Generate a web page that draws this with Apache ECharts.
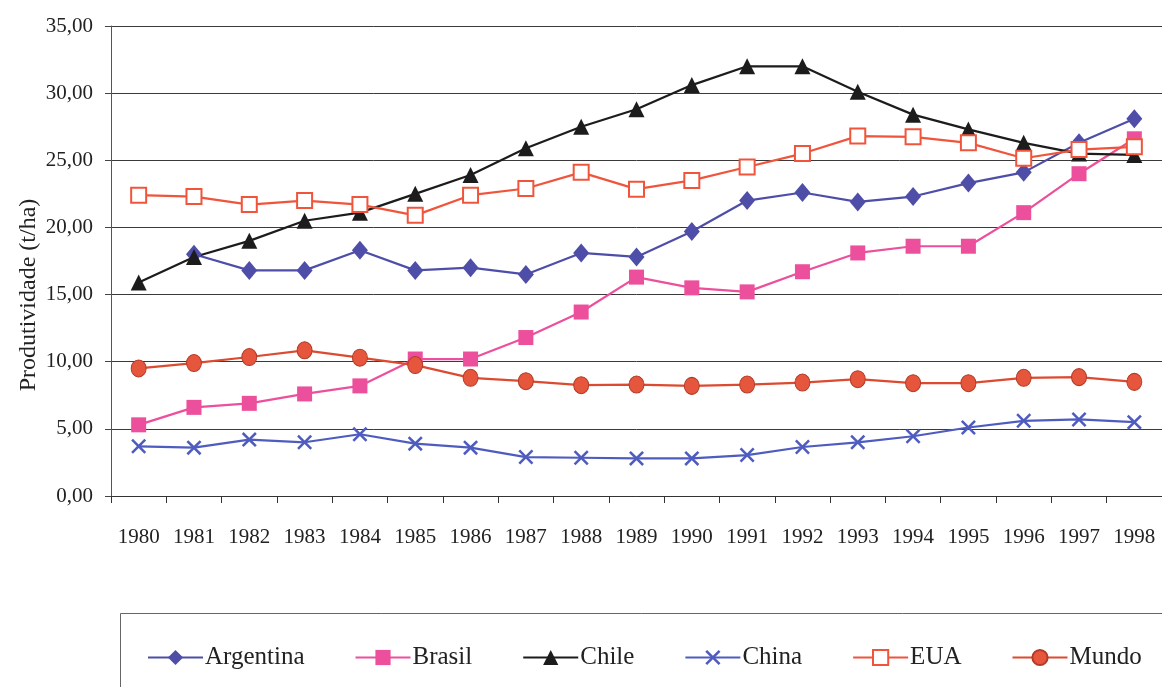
<!DOCTYPE html>
<html>
<head>
<meta charset="utf-8">
<script src="https://cdn.jsdelivr.net/npm/echarts@6/dist/echarts.min.js"></script>
<style>
  html, body { margin: 0; padding: 0; background: #fff; }
  #chart { width: 1162px; height: 687px; }
</style>
</head>
<body>
<div id="chart"></div>
<script>
// Produtividade (t/ha), 1980-1998
const years = ['1980','1981','1982','1983','1984','1985','1986','1987','1988','1989',
               '1990','1991','1992','1993','1994','1995','1996','1997','1998'];
const argentina = ['-', 18.0, 16.8, 16.8, 18.3, 16.8, 17.0, 16.5, 18.1, 17.8, 19.7, 22.0, 22.6, 21.9, 22.3, 23.3, 24.1, 26.3, 28.1];
const brasil    = [5.3, 6.6, 6.9, 7.6, 8.2, 10.2, 10.2, 11.8, 13.7, 16.3, 15.5, 15.2, 16.7, 18.1, 18.6, 18.6, 21.1, 24.0, 26.6];
const chile     = [15.9, 17.8, 19.0, 20.5, 21.1, 22.5, 23.9, 25.9, 27.5, 28.8, 30.6, 32.0, 32.0, 30.1, 28.4, 27.3, 26.3, 25.5, 25.4];
const china     = [3.7, 3.6, 4.2, 4.0, 4.6, 3.9, 3.6, 2.9, 2.85, 2.8, 2.8, 3.05, 3.65, 4.0, 4.45, 5.1, 5.6, 5.7, 5.5];
const eua       = [22.4, 22.3, 21.7, 22.0, 21.7, 20.9, 22.4, 22.9, 24.1, 22.85, 23.5, 24.5, 25.5, 26.8, 26.75, 26.3, 25.15, 25.8, 26.0];
const mundo     = [9.5, 9.9, 10.35, 10.85, 10.3, 9.75, 8.8, 8.55, 8.25, 8.3, 8.2, 8.3, 8.45, 8.7, 8.4, 8.4, 8.8, 8.85, 8.5];

const serif = '"Liberation Serif", "DejaVu Serif", serif';
const crossPath = 'path://M0,1.2L1.2,0L5,3.8L8.8,0L10,1.2L6.2,5L10,8.8L8.8,10L5,6.2L1.2,10L0,8.8L3.8,5Z';

function lineSeries(name, data, color, symbol, size, itemStyle) {
  return {
    name: name,
    type: 'line',
    data: data,
    symbol: symbol,
    symbolSize: size,
    showAllSymbol: true,
    lineStyle: { color: color, width: 2.2 },
    itemStyle: Object.assign({ color: color }, itemStyle || {}),
    emphasis: { disabled: true },
    animation: false
  };
}

const chart = echarts.init(document.getElementById('chart'), null, { renderer: 'canvas' });
chart.setOption({
  backgroundColor: '#ffffff',
  textStyle: { fontFamily: serif },
  grid: { left: 111, top: 26, width: 1055, height: 470, containLabel: false },
  xAxis: {
    type: 'category',
    data: years,
    boundaryGap: true,
    axisLine: { lineStyle: { color: '#333', width: 1 } },
    axisTick: { show: true, length: 7, inside: false, lineStyle: { color: '#333' } },
    axisLabel: { color: '#222', fontFamily: serif, fontSize: 21, margin: 31, interval: 0 },
    splitLine: { show: false }
  },
  yAxis: {
    type: 'value',
    min: 0,
    max: 35,
    interval: 5,
    axisLine: { show: true, lineStyle: { color: '#555', width: 1 } },
    axisTick: { show: true, length: 6, lineStyle: { color: '#444' } },
    axisLabel: {
      color: '#222', fontFamily: serif, fontSize: 21, margin: 18,
      formatter: function (v) { return v.toFixed(2).replace('.', ','); }
    },
    splitLine: { show: true, lineStyle: { color: '#3a3a3a', width: 1 } }
  },
  legend: {
    left: 142,
    top: 640,
    itemWidth: 55,
    itemHeight: 19,
    itemGap: 50,
    textStyle: { color: '#222', fontFamily: serif, fontSize: 25, padding: [0, 0, 0, -3] },
    data: ['Argentina', 'Brasil', 'Chile', 'China', 'EUA', 'Mundo']
  },
  graphic: [
    {
      type: 'rect',
      shape: { x: 120.5, y: 613.5, width: 1100, height: 120 },
      style: { fill: 'none', stroke: '#666', lineWidth: 1 },
      silent: true
    },
    {
      type: 'text',
      x: 29,
      y: 295,
      rotation: Math.PI / 2,
      style: {
        text: 'Produtividade (t/ha)',
        font: '24px ' + serif,
        fill: '#222',
        align: 'center',
        verticalAlign: 'middle'
      },
      silent: true
    }
  ],
  series: [
    lineSeries('Argentina', argentina, '#4e4ea8', 'diamond', [16, 19]),
    lineSeries('Brasil', brasil, '#ec4f9c', 'rect', [15, 15]),
    lineSeries('Chile', chile, '#1c1c1c', 'triangle', [16, 16]),
    lineSeries('China', china, '#4f5cbf', crossPath, [15, 15]),
    lineSeries('EUA', eua, '#f0553c', 'rect', [15, 15], { color: '#ffffff', borderColor: '#f0553c', borderWidth: 2 }),
    lineSeries('Mundo', mundo, '#dc4a30', 'circle', [15, 17], { color: '#e5563c', borderColor: '#b23a26', borderWidth: 1 })
  ]
});
</script>
</body>
</html>
